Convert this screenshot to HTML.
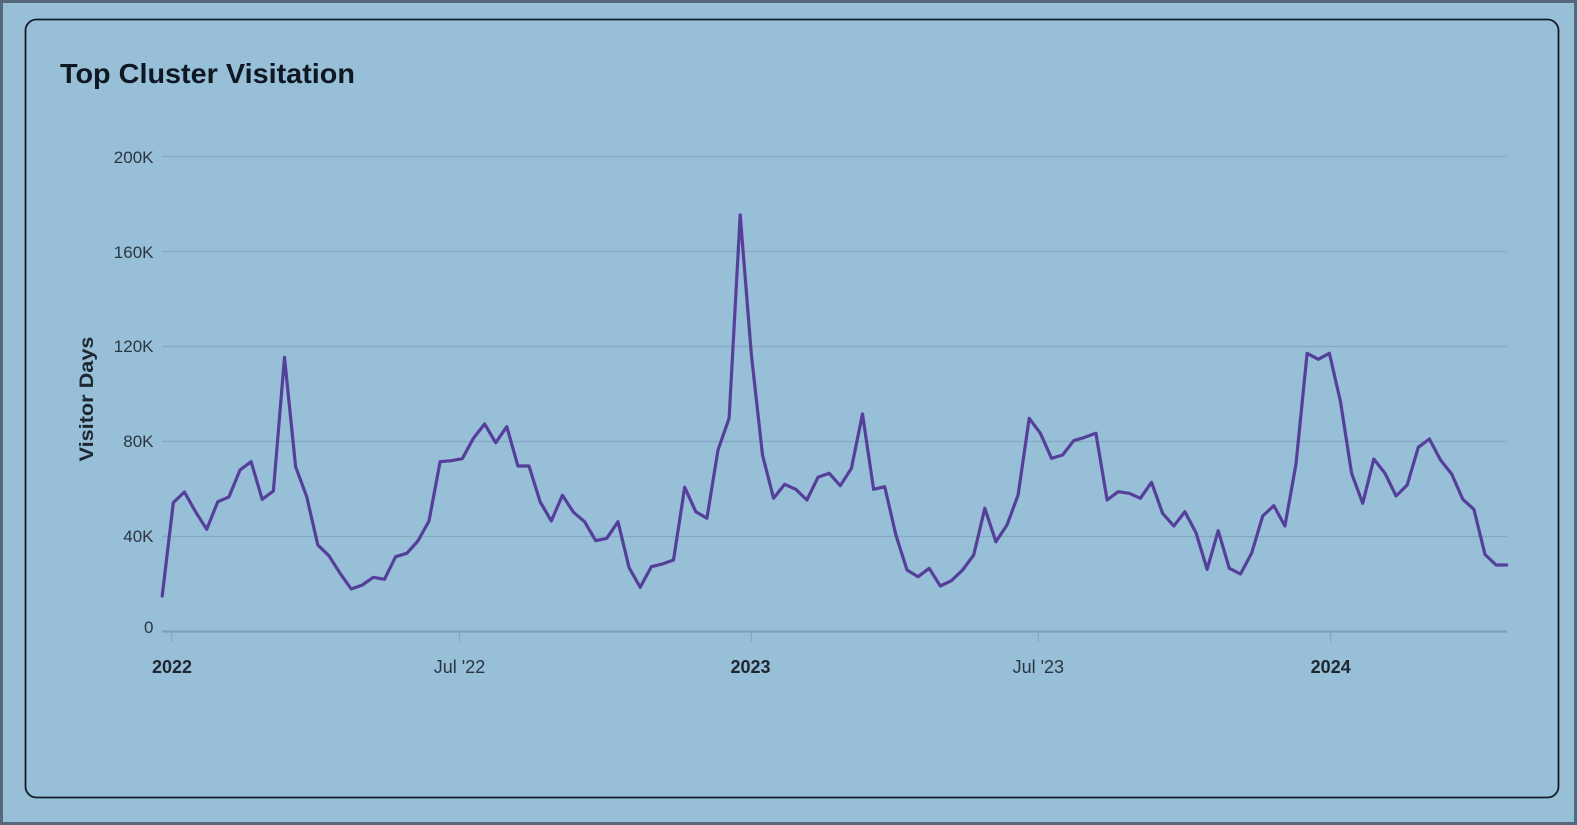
<!DOCTYPE html>
<html>
<head>
<meta charset="utf-8">
<style>
  html, body { margin: 0; padding: 0; width: 1577px; height: 825px; overflow: hidden; background: #97bfd8; }
  svg { display: block; }
</style>
</head>
<body>
<svg width="1577" height="825" viewBox="0 0 1577 825" xmlns="http://www.w3.org/2000/svg">
  <!-- outer background + frame -->
  <rect x="0" y="0" width="1577" height="825" fill="#97bfd8"/>
  <rect x="1.5" y="1.5" width="1574" height="822" fill="none" stroke="#56697a" stroke-width="3"/>
  <!-- card -->
  <rect x="25.5" y="19.5" width="1533" height="778" rx="11" ry="11" fill="#97bfd8" stroke="#131c26" stroke-width="1.8"/>

  <!-- title -->
  <text x="60" y="83" font-family="'Liberation Sans', sans-serif" font-weight="bold" font-size="28" fill="#0f1822" textLength="295" lengthAdjust="spacingAndGlyphs">Top Cluster Visitation</text>

  <!-- gridlines -->
  <g stroke="#86a9c1" stroke-width="1.3">
    <line x1="162" y1="156.5" x2="1507" y2="156.5"/>
    <line x1="162" y1="251.5" x2="1507" y2="251.5"/>
    <line x1="162" y1="346.5" x2="1507" y2="346.5"/>
    <line x1="162" y1="441.5" x2="1507" y2="441.5"/>
    <line x1="162" y1="536.5" x2="1507" y2="536.5"/>
  </g>
  <!-- x axis line -->
  <line x1="162" y1="631.5" x2="1507" y2="631.5" stroke="#7fa0b9" stroke-width="2.2"/>
  <!-- ticks -->
  <g stroke="#86a6be" stroke-width="1.2">
    <line x1="171.7" y1="632" x2="171.7" y2="642"/>
    <line x1="459.3" y1="632" x2="459.3" y2="642"/>
    <line x1="751.3" y1="632" x2="751.3" y2="642"/>
    <line x1="1038.3" y1="632" x2="1038.3" y2="642"/>
    <line x1="1330.7" y1="632" x2="1330.7" y2="642"/>
  </g>

  <!-- y labels -->
  <g font-family="'Liberation Sans', sans-serif" font-size="17" fill="#2b3540" text-anchor="end">
    <text x="153.5" y="163">200K</text>
    <text x="153.5" y="258">160K</text>
    <text x="153.5" y="352">120K</text>
    <text x="153.5" y="447">80K</text>
    <text x="153.5" y="542">40K</text>
    <text x="153.5" y="633">0</text>
  </g>

  <!-- y axis title -->
  <text transform="translate(93,399) rotate(-90)" font-family="'Liberation Sans', sans-serif" font-weight="bold" font-size="19" fill="#1e2630" text-anchor="middle" textLength="125" lengthAdjust="spacingAndGlyphs">Visitor Days</text>

  <!-- x labels -->
  <g font-family="'Liberation Sans', sans-serif" font-size="18" fill="#2b3540" text-anchor="middle">
    <text x="172" y="673" font-weight="bold" fill="#1e2630">2022</text>
    <text x="459.5" y="673">Jul '22</text>
    <text x="750.5" y="673" font-weight="bold" fill="#1e2630">2023</text>
    <text x="1038.3" y="673">Jul '23</text>
    <text x="1330.7" y="673" font-weight="bold" fill="#1e2630">2024</text>
  </g>

  <!-- series -->
  <polyline fill="none" stroke="#553f9a" stroke-width="3.2" stroke-linejoin="round" stroke-linecap="round"
    points="
162.2,596 173.3,502.7 184.4,492 195.5,511.7 206.7,529.3 217.8,501.7 228.9,497 240.0,470 251.1,461.7 262.2,499.3
273.4,491 284.5,357.3 295.6,466.7 306.7,496.7 317.8,545 328.9,555.7 340.1,573.3 351.2,589 362.3,585 373.4,577.3
384.5,579.3 395.6,556.7 406.8,553.3 417.9,541 429.0,521 440.1,461.7 451.2,460.7 462.3,458.7 473.4,438.3 484.6,424
495.7,442.7 506.8,426.7 517.9,466 529.0,466 540.1,501.7 551.3,521 562.4,495.3 573.5,512.3 584.6,521.7 595.7,540.7
606.8,538.3 618.0,521.7 629.1,567.7 640.2,587.3 651.3,566.7 662.4,564 673.5,560 684.7,487.3 695.8,511.7 706.9,518.3
718.0,450 729.1,418.3 740.2,215 751.4,355 762.5,455 773.6,498.3 784.7,484.3 795.8,489.3 806.9,500 818.0,477.3
829.2,473.3 840.3,485.7 851.4,468.3 862.5,414 873.6,489.3 884.7,486.7 895.9,535 907.0,570 918.1,576.7 929.2,568.3
940.3,586 951.4,580.7 962.6,570 973.7,555 984.8,508.3 995.9,541.7 1007.0,525 1018.1,495 1029.2,418.3 1040.4,433.3
1051.5,458.3 1062.6,455 1073.7,440.7 1084.8,437.3 1095.9,433.3 1107.1,500 1118.2,491.7 1129.3,493.3 1140.4,498.3 1151.5,482.3
1162.6,513.3 1173.8,526 1184.9,511.7 1196.0,532.7 1207.1,569.3 1218.2,530.7 1229.3,568.3 1240.5,574 1251.6,553.3 1262.7,516
1273.8,505.7 1284.9,526 1296.0,464 1307.1,353.3 1318.3,359.3 1329.4,353.3 1340.5,401.7 1351.6,473.3 1362.7,503.3 1373.8,459
1385.0,473.3 1396.1,496 1407.2,485 1418.3,447.3 1429.4,439 1440.5,460 1451.7,474 1462.8,499.3 1473.9,509.3 1485.0,554.5
1496.1,565 1506.7,565"/>
</svg>
</body>
</html>
